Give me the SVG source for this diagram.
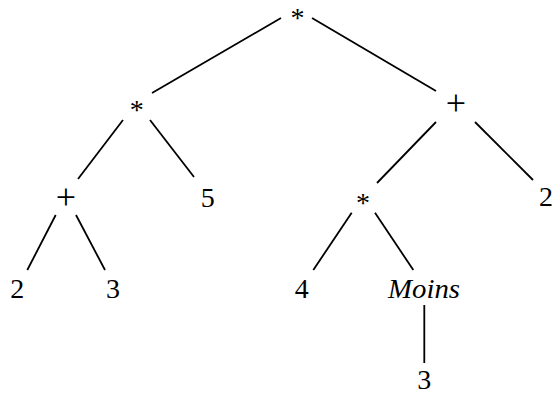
<svg xmlns="http://www.w3.org/2000/svg" width="552" height="394" viewBox="0 0 552 394" font-family="Liberation Serif">
  <rect width="552" height="394" fill="#fff"/>

  <!-- tree edges -->
  <g id="edges" stroke="#000" stroke-width="1.8">
    <line x1="281" y1="18" x2="152" y2="93"/>
    <line x1="312" y1="18" x2="436" y2="91"/>
    <line x1="123" y1="120" x2="78" y2="179"/>
    <line x1="150" y1="120" x2="194" y2="177"/>
    <line x1="436" y1="122" x2="377" y2="183"/>
    <line x1="475" y1="122" x2="533" y2="180"/>
    <line x1="55.7" y1="215" x2="27.3" y2="270"/>
    <line x1="76" y1="215" x2="105" y2="270"/>
    <line x1="351.7" y1="212.7" x2="313.3" y2="270"/>
    <line x1="375" y1="212.7" x2="413.3" y2="270"/>
    <line x1="424.3" y1="305" x2="424.3" y2="363"/>
  </g>

  <!-- nodes: operators and operands, centred on their x -->
  <g id="n-root"><text x="297.5" y="26.5" style="font-family:'Liberation Serif',serif;font-size:28px" text-anchor="middle">*</text></g>
  <g id="n-mul-left"><text x="136.7" y="119" style="font-family:'Liberation Serif',serif;font-size:28px" text-anchor="middle">*</text></g>
  <g id="n-add-right"><text x="456" y="114.5" style="font-family:'Liberation Serif',serif;font-size:36px" text-anchor="middle">+</text></g>
  <g id="n-add-left"><text x="65.8" y="209" style="font-family:'Liberation Serif',serif;font-size:36px" text-anchor="middle">+</text></g>
  <g id="n-five"><text x="207.7" y="206.5" style="font-family:'Liberation Serif',serif;font-size:28px" text-anchor="middle">5</text></g>
  <g id="n-mul-right"><text x="363" y="212" style="font-family:'Liberation Serif',serif;font-size:28px" text-anchor="middle">*</text></g>
  <g id="n-two-right"><text x="546" y="205.5" style="font-family:'Liberation Serif',serif;font-size:28px" text-anchor="middle">2</text></g>
  <g id="n-two"><text x="17.3" y="298.3" style="font-family:'Liberation Serif',serif;font-size:28px" text-anchor="middle">2</text></g>
  <g id="n-three"><text x="113" y="298.3" style="font-family:'Liberation Serif',serif;font-size:28px" text-anchor="middle">3</text></g>
  <g id="n-four"><text x="301.7" y="298.3" style="font-family:'Liberation Serif',serif;font-size:28px" text-anchor="middle">4</text></g>
  <g id="n-moins"><text x="424" y="298.3" style="font-family:'Liberation Serif',serif;font-size:28px;font-style:italic" text-anchor="middle" textLength="72" lengthAdjust="spacingAndGlyphs">Moins</text></g>
  <g id="n-three-bottom"><text x="424.3" y="389" style="font-family:'Liberation Serif',serif;font-size:28px" text-anchor="middle">3</text></g>
</svg>
